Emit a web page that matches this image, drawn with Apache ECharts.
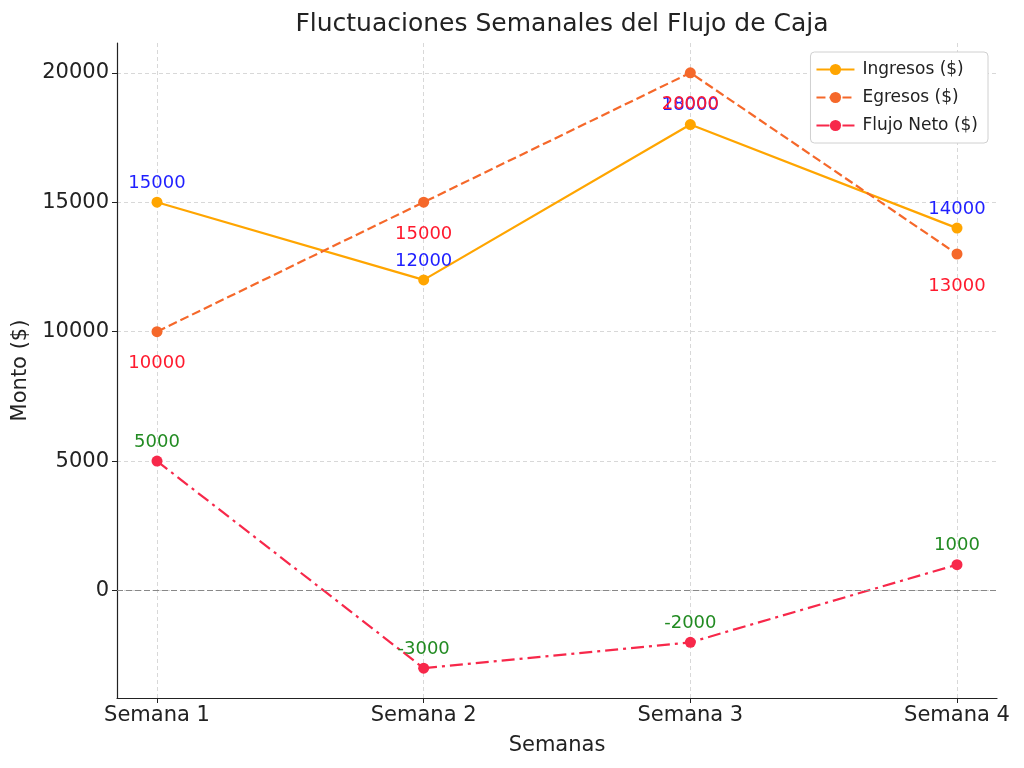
<!DOCTYPE html>
<html>
<head>
<meta charset="utf-8">
<script src="https://cdn.jsdelivr.net/npm/echarts@6/dist/echarts.min.js"></script>
<style>html,body{margin:0;padding:0;background:#fff}#c{width:1024px;height:768px}</style>
</head>
<body>
<div id="c"></div>
<script>
const categories = ['Semana 1', 'Semana 2', 'Semana 3', 'Semana 4'];
const ingresos = [15000, 12000, 18000, 14000];
const egresos = [10000, 15000, 20000, 13000];
const flujoNeto = [5000, -3000, -2000, 1000];
const yTicks = [0, 5000, 10000, 15000, 20000];

const F = 'DejaVu Sans';
const toPairs = arr => arr.map((v, i) => [i, v]);
const xIdx = categories.map((_, i) => i);

const chart = echarts.init(document.getElementById('c'));
chart.setOption({
  animation: false,
  backgroundColor: '#fff',
  title: {
    text: 'Fluctuaciones Semanales del Flujo de Caja',
    left: 557, top: 7, textAlign: 'center',
    textStyle: { fontFamily: F, fontSize: 25, fontWeight: 'normal', color: '#222' }
  },
  legend: {
    right: 36, top: 52, orient: 'vertical',
    padding: [9, 10, 9, 5],
    itemWidth: 38, itemHeight: 14, itemGap: 11,
    backgroundColor: '#fff', borderColor: '#d0d0d0', borderWidth: 1, borderRadius: 4,
    textStyle: { fontFamily: F, fontSize: 17, color: '#222', padding: [0, 0, 0, 3] },
    data: ['Ingresos ($)', 'Egresos ($)', 'Flujo Neto ($)']
  },
  grid: { left: 117, right: 27, top: 43, bottom: 70 },
  xAxis: {
    type: 'value', min: -0.15, max: 3.15,
    name: 'Semanas', nameLocation: 'middle', nameGap: 37,
    nameTextStyle: { fontFamily: F, fontSize: 21, color: '#222' },
    axisLine: { show: true, onZero: false, lineStyle: { color: '#222', width: 1.2 } },
    axisTick: { show: true, customValues: xIdx, length: 5, lineStyle: { color: '#222' } },
    axisLabel: { customValues: xIdx, fontFamily: F, fontSize: 21, color: '#222', margin: 7,
      formatter: v => categories[Math.round(v)] },
    splitLine: { show: true, lineStyle: { color: '#d8d8d8', type: [4, 3], width: 1 } }
  },
  yAxis: {
    type: 'value', min: -4150, max: 21150,
    name: 'Monto ($)', nameLocation: 'middle', nameGap: 82, nameRotate: 90,
    nameTextStyle: { fontFamily: F, fontSize: 21, color: '#222' },
    axisLine: { show: true, onZero: false, lineStyle: { color: '#222', width: 1.2 } },
    axisTick: { show: true, customValues: yTicks, length: 5, lineStyle: { color: '#222' } },
    axisLabel: { customValues: yTicks, fontFamily: F, fontSize: 21, color: '#222', margin: 8,
      formatter: v => String(v) },
    splitLine: { show: true, lineStyle: { color: '#d8d8d8', type: [4, 3], width: 1 } }
  },
  series: [
    {
      name: 'Ingresos ($)', type: 'line', data: toPairs(ingresos),
      symbol: 'circle', symbolSize: 11, z: 3,
      itemStyle: { color: '#FFA500' },
      lineStyle: { color: '#FFA500', width: 2.2, type: 'solid' },
      label: { show: true, position: 'inside', offset: [0, -19], fontFamily: F, fontSize: 18, color: '#1f1fff',
        formatter: p => p.value[1] }
    },
    {
      name: 'Egresos ($)', type: 'line', data: toPairs(egresos),
      symbol: 'circle', symbolSize: 11, z: 3,
      itemStyle: { color: '#F5682A' },
      lineStyle: { color: '#F5682A', width: 2.2, type: [9, 4] },
      label: { show: true, position: 'inside', offset: [0, 32], fontFamily: F, fontSize: 18, color: '#ff1a2e',
        formatter: p => p.value[1] }
    },
    {
      name: 'Flujo Neto ($)', type: 'line', data: toPairs(flujoNeto),
      symbol: 'circle', symbolSize: 11, z: 3,
      itemStyle: { color: '#F7284A' },
      lineStyle: { color: '#F7284A', width: 2.2, type: [13, 5, 3, 5] },
      label: { show: true, position: 'inside', offset: [0, -19], fontFamily: F, fontSize: 18, color: '#228B22',
        formatter: p => p.value[1] },
      markLine: {
        silent: true, symbol: 'none', label: { show: false },
        lineStyle: { color: '#888', type: [6, 3], width: 1.2 },
        data: [{ yAxis: 0 }]
      }
    }
  ]
});
</script>
</body>
</html>
